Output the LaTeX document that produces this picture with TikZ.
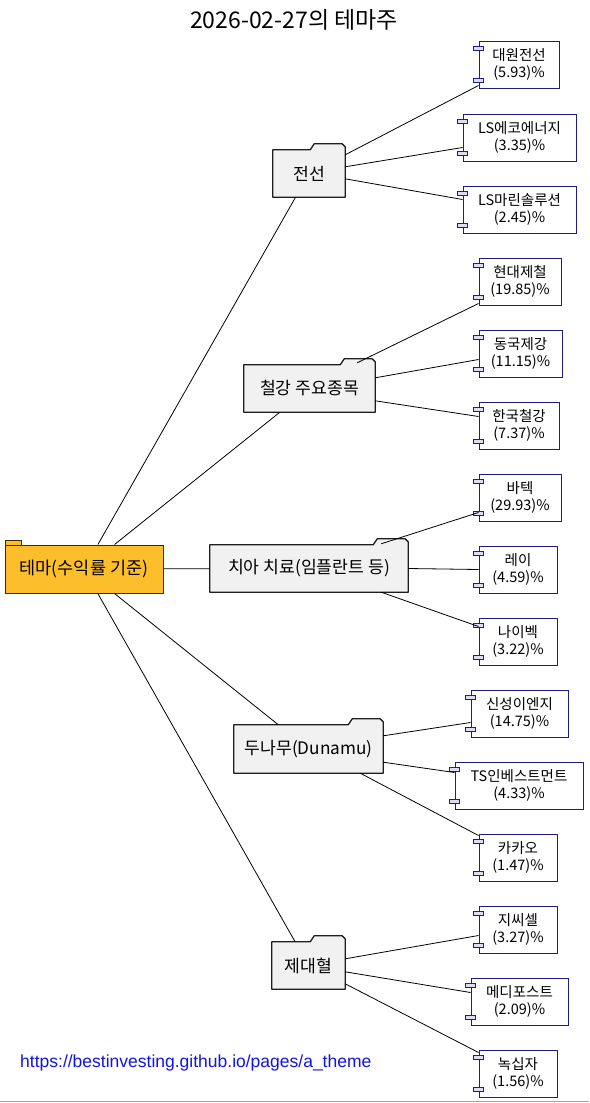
\documentclass[tikz,border=0pt]{standalone}
\usepackage{fontspec}
\setmainfont{Noto Sans CJK KR}
\newfontfamily\urlfont{Liberation Sans}
\definecolor{rootfill}{RGB}{252,190,42}
\definecolor{rootborder}{RGB}{60,45,10}
\definecolor{foldfill}{RGB}{241,241,241}
\definecolor{folderborder}{RGB}{30,30,30}
\definecolor{compborder}{RGB}{30,30,130}
\definecolor{portfill}{RGB}{222,222,242}
\definecolor{urlblue}{RGB}{20,20,225}
\tikzset{
  folderbox/.style={rectangle, fill=foldfill, draw=none, inner sep=0pt, font=\fontsize{17.2}{19}\selectfont},
  rootbox/.style={rectangle, fill=rootfill, draw=rootborder, line width=1pt, inner sep=0pt, font=\fontsize{17.5}{19}\selectfont},
  comp/.style={rectangle, draw=compborder, line width=1pt, fill=white, inner sep=0pt, minimum height=47pt, align=center, font=\fontsize{14.5}{17}\selectfont},
  port/.style={draw=compborder, fill=portfill, line width=0.8pt},
  link/.style={draw=black, line width=0.8pt},
  folderline/.style={draw=folderborder, line width=1.3pt, line join=round},
}
\newcommand\mkfolder[6]{%
  \node[folderbox, minimum width=#4pt, minimum height=#5pt] (#1) at (#2,#3) {#6};
  \fill[foldfill] ([xshift=-35pt]#1.north east) -- ([xshift=-31pt,yshift=6pt]#1.north east) -- ([xshift=-3pt,yshift=6pt]#1.north east) -- ([yshift=3pt]#1.north east) -- (#1.north east) -- cycle;
  \draw[folderline] (#1.south west) -- (#1.north west) -- ([xshift=-35pt]#1.north east) -- ([xshift=-31pt,yshift=6pt]#1.north east) -- ([xshift=-3pt,yshift=6pt]#1.north east) -- ([yshift=3pt]#1.north east) -- (#1.south east) -- cycle;
}
\newcommand\mkcomp[6]{%
  \node[comp, minimum width=#4pt] (#1) at (#2,#3) {#5\\#6};
  \draw[port] ([xshift=-5pt,yshift=-6pt]#1.north west) rectangle ([xshift=5pt,yshift=-10pt]#1.north west);
  \draw[port] ([xshift=-5pt,yshift=10pt]#1.south west) rectangle ([xshift=5pt,yshift=6pt]#1.south west);
}
\begin{document}
\begin{tikzpicture}[x=1pt,y=-1pt]
\useasboundingbox[fill=white] (0,0) rectangle (589,1103);

\node[font=\fontsize{23}{26}\selectfont] (title) at (294,20) {2026-02-27의 테마주};

% root
\draw[fill=rootfill, draw=rootborder, line width=1pt] (5,540) rectangle (21,545);
\node[rootbox, minimum width=158pt, minimum height=48pt] (root) at (84,569) {테마(수익률 기준)};

% folders
\mkfolder{wire}{309}{173.5}{72}{47}{전선}
\mkfolder{steel}{309.5}{388.5}{131}{47}{철강 주요종목}
\mkfolder{dental}{309}{568.5}{198}{47}{치아 치료(임플란트 등)}
\mkfolder{dunamu}{308.5}{749}{149}{48}{두나무(Dunamu)}
\mkfolder{cord}{308.5}{965.5}{73}{47}{제대혈}

% components
\mkcomp{daewon}{519}{64.5}{80}{대원전선}{(5.93)\%}
\mkcomp{lseco}{519.5}{137.5}{113}{LS에코에너지}{(3.35)\%}
\mkcomp{lsmarine}{519.5}{209.5}{113}{LS마린솔루션}{(2.45)\%}
\mkcomp{hyundai}{520}{281.5}{82}{현대제철}{(19.85)\%}
\mkcomp{dongkuk}{520.5}{353.5}{83}{동국제강}{(11.15)\%}
\mkcomp{hankook}{519}{425.5}{80}{한국철강}{(7.37)\%}
\mkcomp{vatech}{520}{497.5}{82}{바텍}{(29.93)\%}
\mkcomp{ray}{518}{569.5}{78}{레이}{(4.59)\%}
\mkcomp{naibek}{518}{641.5}{78}{나이벡}{(3.22)\%}
\mkcomp{shinsung}{519.5}{713.5}{97}{신성이엔지}{(14.75)\%}
\mkcomp{ts}{519}{785.5}{128}{TS인베스트먼트}{(4.33)\%}
\mkcomp{kakao}{518}{857.5}{78}{카카오}{(1.47)\%}
\mkcomp{gc}{518}{929.5}{78}{지씨셀}{(3.27)\%}
\mkcomp{medipost}{519.5}{1001.5}{97}{메디포스트}{(2.09)\%}
\mkcomp{green}{518}{1073.5}{78}{녹십자}{(1.56)\%}

% root -> folders
\draw[link] (root) -- (wire);
\draw[link] (root) -- (steel);
\draw[link] (root) -- (dental);
\draw[link] (root) -- (dunamu);
\draw[link] (root) -- (cord);

% folder -> components
\draw[link] ([yshift=-5pt]wire.north east) -- ([yshift=3pt]daewon.south west);
\draw[link] ([yshift=-17pt]wire.north east) -- ([yshift=14pt]lseco.south west);
\draw[link] ([yshift=-29pt]wire.north east) -- ([yshift=-14pt]lsmarine.north west);

\draw[link] ([xshift=-18pt,yshift=2pt]steel.north east) -- ([yshift=2pt]hyundai.south west);
\draw[link] ([yshift=-13pt]steel.north east) -- ([yshift=-30pt]dongkuk.north west);
\draw[link] ([yshift=-36pt]steel.north east) -- ([yshift=-15pt]hankook.north west);

\draw[link] ([xshift=-27pt,yshift=1pt]dental.north east) -- ([yshift=9pt]vatech.south west);
\draw[link] (dental.east) -- (ray.west);
\draw[link] ([xshift=-27pt]dental.south east) -- ([yshift=-9pt]naibek.north west);

\draw[link] ([yshift=-11pt]dunamu.north east) -- ([yshift=15pt]shinsung.south west);
\draw[link] ([yshift=11pt]dunamu.south east) -- ([yshift=-11pt]ts.north west);
\draw[link] ([xshift=-23pt]dunamu.south east) -- ([yshift=-2pt]kakao.north west);

\draw[link] ([yshift=-17pt]cord.north east) -- ([yshift=18pt]gc.south west);
\draw[link] ([yshift=-30pt]cord.north east) -- ([yshift=-15pt]medipost.north west);
\draw[link] ([yshift=-42pt]cord.north east) -- ([yshift=-3pt]green.north west);

\node[anchor=west, font=\urlfont\fontsize{17.5}{20}\selectfont, text=urlblue, inner sep=0pt] (url) at (20,1063) {https://bestinvesting.github.io/pages/a\_theme};

\draw[gray!70, line width=1.5pt] (0,1101.5) -- (589,1101.5);
\end{tikzpicture}
\end{document}
